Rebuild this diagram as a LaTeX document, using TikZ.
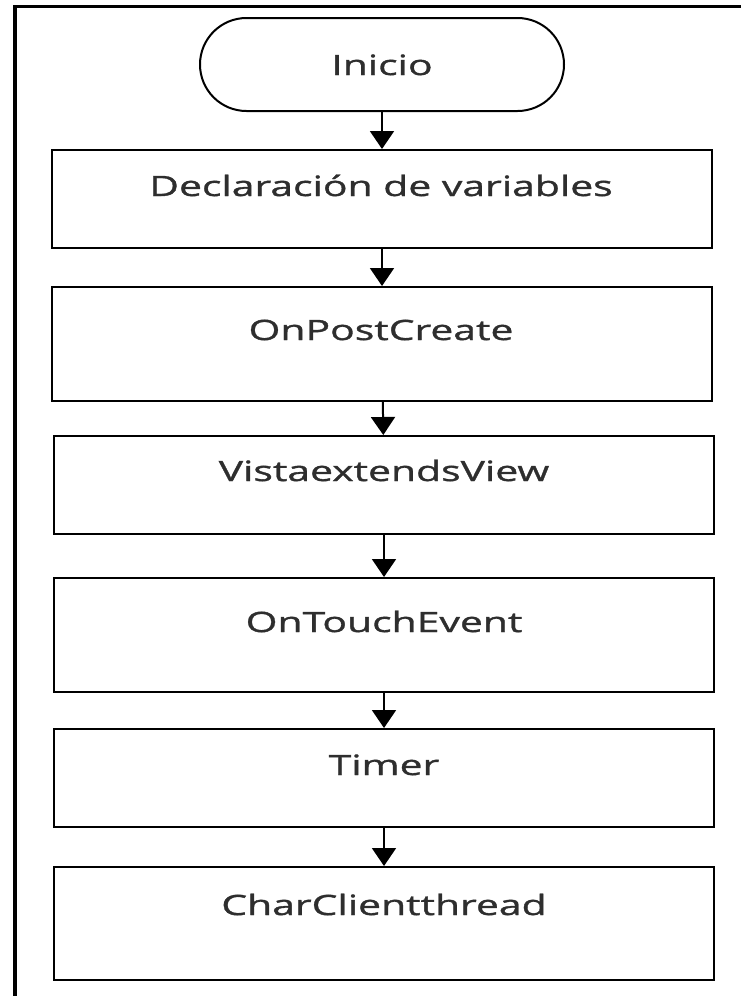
\documentclass[tikz,border=0pt]{standalone}
\usepackage{fontspec}
\setmainfont{Open Sans}[FakeStretch=1.46,FakeBold=1.2]
\usetikzlibrary{arrows.meta}
\begin{document}
\begin{tikzpicture}[x=1pt,y=-1pt,
  box/.style={draw=black, line width=2pt, minimum width=660pt, minimum height=98pt, inner sep=0pt},
  terminal/.style={draw=black, line width=2pt, minimum width=364pt, minimum height=93pt, rounded corners=46.5pt, inner sep=0pt},
  txt/.style={font=\fontsize{28}{32}\selectfont, text=black!82, text height=20pt, text depth=0pt, inner sep=0pt},
  flow/.style={draw=black, line width=2pt, -{Triangle[length=18pt,width=24pt]}},
  frame/.style={draw=black, line width=3.8pt, line join=miter}]
\useasboundingbox (0,0) rectangle (741,996);
\fill[white] (0,0) rectangle (741,996);
\coordinate (fbl) at (15,1000);
\coordinate (ftr) at (745,6.5);
\draw[frame] (fbl) |- (ftr);

\node[terminal] (start) at (382,64.5) {};
\node[txt] (tstart) at (382,65) {Inicio};

\node[box] (b1) at (382,199) {};
\node[txt] (t1) at (381,186) {Declaración de variables};

\node[box, minimum height=114pt] (b2) at (382,344) {};
\node[txt] (t2) at (381,330) {OnPostCreate};

\node[box] (b3) at (384,485) {};
\node[txt] (t3) at (384,471) {VistaextendsView};

\node[box, minimum height=114pt] (b4) at (384,635) {};
\node[txt] (t4) at (384,622) {OnTouchEvent};

\node[box] (b5) at (384,778) {};
\node[txt] (t5) at (384,765) {Timer};

\node[box, minimum height=113pt] (b6) at (384,923.5) {};
\node[txt] (t6) at (384,905) {CharClientthread};

\draw[flow] (start) -- (b1);
\draw[flow] (b1) -- (b2);
\draw[flow] (b2) -- (b3);
\draw[flow] (b3) -- (b4);
\draw[flow] (b4) -- (b5);
\draw[flow] (b5) -- (b6);
\end{tikzpicture}
\end{document}
